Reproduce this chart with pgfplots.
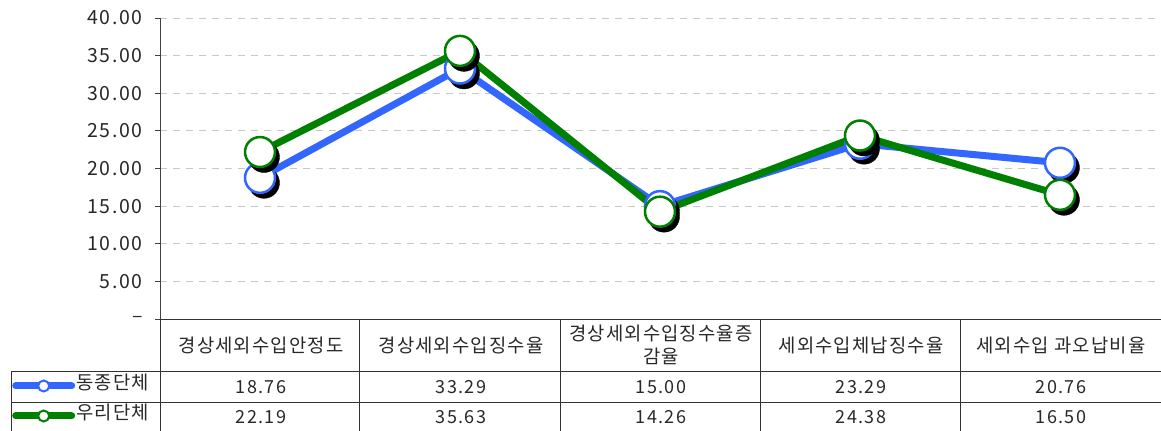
\documentclass[border=0pt]{standalone}
\usepackage{fontspec}
\setmainfont{Noto Sans CJK KR}
\newfontfamily\numfont[LetterSpace=8]{Noto Sans CJK KR}
\newfontfamily\korfont[LetterSpace=6]{Noto Sans CJK KR}
\usepackage{pgfplots}
\pgfplotsset{compat=1.18}
\definecolor{cblue}{RGB}{51,102,255}
\definecolor{cgreen}{RGB}{0,128,0}
\definecolor{gridgray}{RGB}{200,200,200}
\definecolor{txt}{RGB}{40,40,40}
\newcommand{\fs}{\korfont\fontsize{18.8bp}{22bp}\selectfont}
\newcommand{\fn}{\numfont\fontsize{18bp}{22bp}\selectfont}
\newcommand{\ft}{\numfont\fontsize{19.5bp}{22bp}\selectfont}
\begin{document}
\begin{tikzpicture}
\useasboundingbox (0,0) rectangle (1161bp,-431bp);
\begin{axis}[
  at={(160bp,-319bp)}, anchor=south west,
  scale only axis, width=1000bp, height=301bp,
  xmin=-0.5, xmax=4.5, ymin=0, ymax=40,
  axis x line=none, axis y line*=left,
  axis line style={-, black!75, line width=0.9bp},
  ytick={0,5,...,40},
  yticklabels={–,5.00,10.00,15.00,20.00,25.00,30.00,35.00,40.00},
  tick align=outside, major tick length=5bp,
  ytick style={black!75, line width=0.9bp},
  yticklabel style={font=\ft, text=txt, xshift=-9bp},
  ymajorgrids,
  major grid style={gridgray, line width=0.9bp, dash pattern=on 7bp off 6bp},
  clip=false,
  legend style={draw=none, fill=none, inner sep=0pt,
    at={(axis description cs:-0.148,-0.2724)}, anchor=west,
    row sep=0pt, column sep=1bp,
    nodes={inner xsep=0bp, inner ysep=7bp, text height=12bp, text depth=4bp, font=\fs, text=txt}},
  legend cell align=left,
  legend image code/.code={
    \draw[line cap=round, line width=7bp] (0bp,0bp) -- (56bp,0bp);
    \draw[fill=white, line width=2bp] (28bp,0bp) circle (5.5bp);
  },
]
% series 1: 동종단체
\addplot[forget plot, only marks, mark=*, mark size=15.5bp, black, mark options={xshift=4bp, yshift=-5bp}]
  coordinates {(0,18.76) (1,33.29) (2,15.00) (3,23.29) (4,20.76)};
\addplot[cblue, line width=7bp]
  coordinates {(0,18.76) (1,33.29) (2,15.00) (3,23.29) (4,20.76)};
\addlegendentry{동종단체}
\addplot[forget plot, only marks, mark=*, mark size=15bp, mark options={fill=white, draw=cblue, line width=2.5bp}]
  coordinates {(0,18.76) (1,33.29) (2,15.00) (3,23.29) (4,20.76)};
% series 2: 우리단체
\addplot[forget plot, only marks, mark=*, mark size=15.5bp, black, mark options={xshift=4bp, yshift=-5bp}]
  coordinates {(0,22.19) (1,35.63) (2,14.26) (3,24.38) (4,16.50)};
\addplot[cgreen, line width=7bp]
  coordinates {(0,22.19) (1,35.63) (2,14.26) (3,24.38) (4,16.50)};
\addlegendentry{우리단체}
\addplot[forget plot, only marks, mark=*, mark size=15bp, mark options={fill=white, draw=cgreen, line width=2.5bp}]
  coordinates {(0,22.19) (1,35.63) (2,14.26) (3,24.38) (4,16.50)};
\end{axis}
% data table
\begin{scope}[line width=1bp, black!80]
  \draw (160bp,-319bp) -- (1161bp,-319bp);
  \draw (11bp,-371bp) -- (1161bp,-371bp);
  \draw (11bp,-402bp) -- (1161bp,-402bp);
  \draw (11bp,-371bp) -- (11bp,-431bp);
  \draw (160bp,-319bp) -- (160bp,-431bp);
  \draw (359.5bp,-319bp) -- (359.5bp,-431bp);
  \draw (560bp,-319bp) -- (560bp,-431bp);
  \draw (760bp,-319bp) -- (760bp,-431bp);
  \draw (960bp,-319bp) -- (960bp,-431bp);
\end{scope}
\begin{scope}[every node/.style={font=\fs, text=txt, inner sep=0pt, anchor=center}]
  \node at (261bp,-345bp) {경상세외수입안정도};
  \node at (461bp,-345bp) {경상세외수입징수율};
  \node[align=center] at (661bp,-345bp) {경상세외수입징수율증\\[1bp]감율};
  \node at (861bp,-345bp) {세외수입체납징수율};
  \node at (1061bp,-345bp) {세외수입 과오납비율};
\end{scope}
\begin{scope}[every node/.style={font=\fn, text=txt, inner sep=0pt, anchor=center}]
  \node at (261bp,-387bp) {18.76};
  \node at (461bp,-387bp) {33.29};
  \node at (661bp,-387bp) {15.00};
  \node at (861bp,-387bp) {23.29};
  \node at (1061bp,-387bp) {20.76};
  \node at (261bp,-417bp) {22.19};
  \node at (461bp,-417bp) {35.63};
  \node at (661bp,-417bp) {14.26};
  \node at (861bp,-417bp) {24.38};
  \node at (1061bp,-417bp) {16.50};
\end{scope}
\end{tikzpicture}
\end{document}
